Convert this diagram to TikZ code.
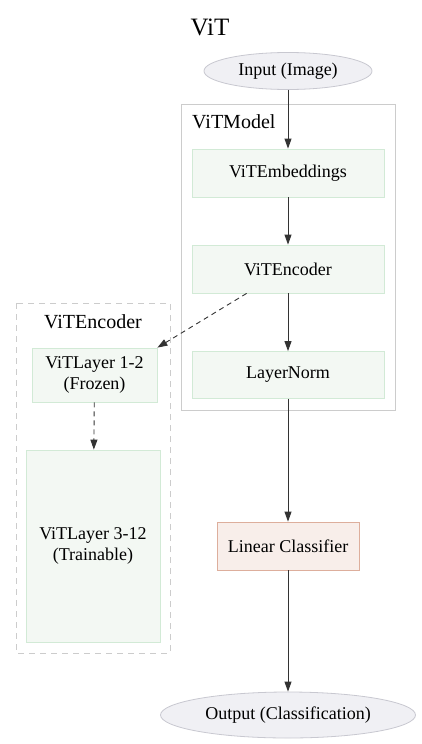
\documentclass[tikz,border=0pt]{standalone}
\usepackage{fontspec}
\setmainfont{Liberation Serif}
\usetikzlibrary{shapes.geometric,arrows.meta}
\definecolor{boxfill}{HTML}{F3F8F3}
\definecolor{boxline}{HTML}{D2EAD6}
\definecolor{ellfill}{HTML}{F0F0F4}
\definecolor{ellline}{HTML}{C8C8D0}
\definecolor{clsfill}{HTML}{F8EEEA}
\definecolor{clsline}{HTML}{DDAE9C}
\definecolor{clusterline}{HTML}{CCCCCC}
\tikzset{
  layerbox/.style={draw=boxline, fill=boxfill, line width=0.8pt, minimum width=192pt, minimum height=48pt, inner sep=0pt, font=\fontsize{18}{21}\selectfont, align=center},
  ellnode/.style={ellipse, draw=ellline, fill=ellfill, line width=0.8pt, inner sep=0pt, font=\fontsize{18}{21}\selectfont},
  arr/.style={-{Triangle[length=10pt,width=7pt]}, line width=0.9pt, black!80},
  darr/.style={arr, dash pattern=on 5pt off 4pt},
  clusterlbl/.style={font=\fontsize{20}{23}\selectfont},
}
\begin{document}
\begin{tikzpicture}[x=1pt,y=-1pt]
\useasboundingbox (0,0) rectangle (421,744);
% clusters
\draw[clusterline, line width=0.8pt] (181,104) rectangle (395,410);
\node[clusterlbl, anchor=west, inner sep=0pt] (lblmodel) at (192,122) {ViTModel};
\draw[clusterline, line width=0.8pt, dash pattern=on 6pt off 5pt] (16,303) rectangle (170,653);
\node[clusterlbl, inner sep=0pt] (lblenc) at (93,322) {ViTEncoder};
% title
\node[font=\fontsize{25}{28}\selectfont, inner sep=0pt] (title) at (210,27) {ViT};
% nodes
\node[ellnode, minimum width=168pt, minimum height=37pt] (input) at (288,71) {Input (Image)};
\node[layerbox] (emb) at (288,173) {ViTEmbeddings};
\node[layerbox] (enc) at (288,269) {ViTEncoder};
\node[layerbox, minimum height=47pt] (ln) at (288,375) {LayerNorm};
\node[layerbox, minimum width=125pt, minimum height=54pt] (l12) at (94.5,375) {ViTLayer 1-2\\(Frozen)};
\node[layerbox, minimum width=134pt, minimum height=192pt] (l312) at (93,546) {ViTLayer 3-12\\(Trainable)};
\node[layerbox, draw=clsline, fill=clsfill, minimum width=142pt, minimum height=48pt] (cls) at (288,546) {Linear Classifier};
\node[ellnode, minimum width=255pt, minimum height=46pt] (out) at (288,715) {Output (Classification)};
% edges
\draw[arr] (input) -- (emb);
\draw[arr] (emb) -- (enc);
\draw[arr] (enc) -- (ln);
\draw[arr] (ln) -- (cls);
\draw[arr] (cls) -- (out);
\draw[darr] (enc.south west) ++(55,0) coordinate (encd) (encd) -- (l12.north east);
\draw[darr] (l12) -- (l312);
\end{tikzpicture}
\end{document}
